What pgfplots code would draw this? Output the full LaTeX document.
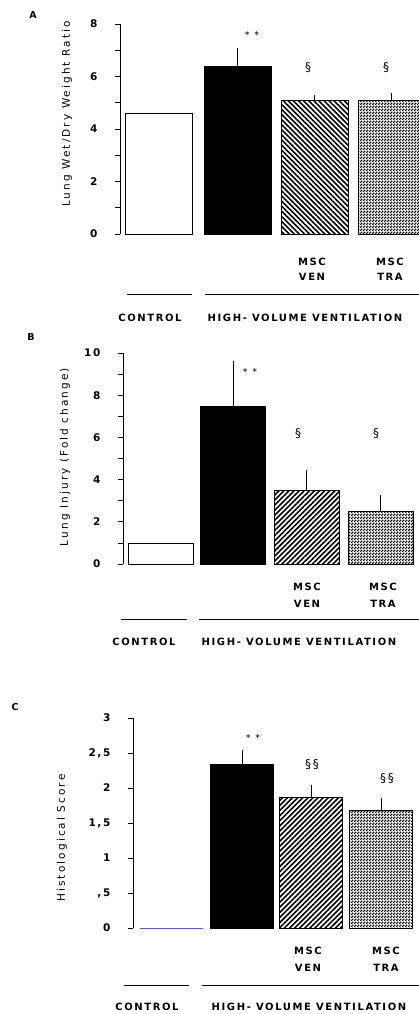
\documentclass[border=0pt]{standalone}
\usepackage{fontspec}
\setmainfont{DejaVu Sans}[LetterSpace=16]
\newfontfamily\ylabfont{DejaVu Sans}[LetterSpace=20]
\usepackage{pgfplots}
\pgfplotsset{compat=1.18}
\usetikzlibrary{patterns,patterns.meta}

\definecolor{ctrlblue}{RGB}{90,90,210}

% fine checkerboard for the MSC TRA bars
\pgfdeclarepatternformonly{finecheck}{\pgfpointorigin}{\pgfqpoint{3pt}{3pt}}{\pgfqpoint{3pt}{3pt}}{%
  \pgfpathrectangle{\pgfpointorigin}{\pgfqpoint{1.7pt}{1.7pt}}%
  \pgfpathrectangle{\pgfqpoint{1.5pt}{1.5pt}}{\pgfqpoint{1.7pt}{1.7pt}}%
  \pgfusepath{fill}}

\pgfplotsset{
  panel/.style={
    scale only axis, anchor=south west, clip=false,
    axis x line=none, axis y line=left,
    y axis line style={-, line width=0.8pt},
    ymin=0, xmax=419,
    tick align=outside, major tick length=5pt, minor tick length=5pt,
    every tick/.style={line width=0.8pt, black},
    yticklabel style={font=\fontsize{10.5}{11}\selectfont\bfseries, xshift=-14pt},
    /pgf/number format/assume math mode=true,
    ybar, bar shift=0pt,
  },
  errs/.style={
    error bars/y dir=plus, error bars/y explicit,
    error bars/error bar style={line width=0.8pt, black},
    error bars/error mark options={line width=0.8pt, mark size=3pt, black, rotate=0},
  },
}

\newcommand{\grp}{\fontsize{10}{11}\selectfont\bfseries}
\newcommand{\ylab}{\fontsize{10.5}{11}\ylabfont}
\newcommand{\sig}{\fontsize{9.5}{10}\selectfont}
\newcommand{\sect}{\fontsize{12}{12}\selectfont}
\newcommand{\pan}{\fontsize{9.5}{10}\selectfont\bfseries}

\begin{document}
\begin{tikzpicture}
\useasboundingbox (0pt,0pt) rectangle (419pt,-1014pt);

% ---------------- A ----------------
\node[font=\pan] at (33pt,-15pt) {A};
\node[rotate=90, font=\ylab] at (67pt,-114pt) {Lung Wet/Dry Weight Ratio};
\begin{axis}[panel, at={(120pt,-234pt)}, width=299pt, height=210pt,
  xmin=120, ymax=8, ytick={0,2,...,8}, minor y tick num=1, bar width=67]
\addplot[draw=black, fill=white, line width=0.8pt] coordinates {(159,4.61)};
\addplot[draw=black, fill=black, line width=0.8pt, errs] coordinates {(237.5,6.40) +- (0,0.56)};
\addplot[draw=black, line width=0.8pt, pattern={Lines[angle=-45,distance=3.6pt,line width=1.6pt]}, errs]
  coordinates {(314.5,5.08) +- (0,0.12)};
\addplot[draw=black, line width=0.8pt, pattern=finecheck, errs] coordinates {(391.5,5.08) +- (0,0.17)};
\node[font=\sig] at (axis cs:252,7.58) {* *};
\node[font=\sect] at (axis cs:308,6.32) {§};
\node[font=\sect] at (axis cs:386,6.32) {§};
\end{axis}
\node[font=\grp] at (312pt,-262pt) {MSC};
\node[font=\grp] at (312pt,-277pt) {VEN};
\node[font=\grp] at (390pt,-262pt) {MSC};
\node[font=\grp] at (390pt,-277pt) {TRA};
\draw[line width=0.8pt] (127pt,-294pt) -- (192pt,-294pt);
\draw[line width=0.8pt] (205pt,-294pt) -- (419pt,-294pt);
\node[font=\grp] at (150pt,-318pt) {CONTROL};
\node[font=\grp] at (305pt,-318pt) {HIGH- VOLUME VENTILATION};

% ---------------- B ----------------
\node[font=\pan] at (31pt,-337pt) {B};
\node[rotate=90, font=\ylab] at (65pt,-457pt) {Lung Injury (Fold change)};
\begin{axis}[panel, at={(123pt,-564pt)}, width=296pt, height=211pt,
  xmin=123, ymax=10, ytick={0,2,...,10}, minor y tick num=1, bar width=65]
\addplot[draw=black, fill=white, line width=0.8pt] coordinates {(160.5,1.0)};
\addplot[draw=black, fill=black, line width=0.8pt, errs] coordinates {(233,7.49) +- (0,2.0)};
\addplot[draw=black, line width=0.8pt, pattern={Lines[angle=45,distance=3.6pt,line width=1.6pt]}, errs]
  coordinates {(306.5,3.50) +- (0,0.80)};
\addplot[draw=black, line width=0.8pt, pattern=finecheck, errs] coordinates {(380.5,2.48) +- (0,0.66)};
\node[font=\sig] at (axis cs:250,9.1) {* *};
\node[font=\sect] at (axis cs:298,6.2) {§};
\node[font=\sect] at (axis cs:376,6.2) {§};
\end{axis}
\node[font=\grp] at (307pt,-587pt) {MSC};
\node[font=\grp] at (307pt,-604pt) {VEN};
\node[font=\grp] at (383pt,-587pt) {MSC};
\node[font=\grp] at (383pt,-604pt) {TRA};
\draw[line width=0.8pt] (121pt,-619pt) -- (187pt,-619pt);
\draw[line width=0.8pt] (199pt,-619pt) -- (419pt,-619pt);
\node[font=\grp] at (144pt,-642pt) {CONTROL};
\node[font=\grp] at (299pt,-642pt) {HIGH- VOLUME VENTILATION};

% ---------------- C ----------------
\node[font=\pan] at (15pt,-707pt) {C};
\node[rotate=90, font=\ylab] at (62pt,-838pt) {Histological Score};
\begin{axis}[panel, at={(133pt,-928pt)}, width=286pt, height=210pt,
  xmin=133, ymax=3, ytick={0,0.5,...,3},
  yticklabels={0,{,5},1,{1,5},2,{2,5},3}, bar width=63]
\addplot[draw=ctrlblue, fill=none, line width=0.8pt] coordinates {(171.5,0)};
\addplot[draw=black, fill=black, line width=0.8pt, errs] coordinates {(242,2.34) +- (0,0.16)};
\addplot[draw=black, line width=0.8pt, pattern={Lines[angle=45,distance=3.6pt,line width=1.6pt]}, errs]
  coordinates {(311,1.87) +- (0,0.13)};
\addplot[draw=black, line width=0.8pt, pattern=finecheck, errs] coordinates {(381,1.68) +- (0,0.14)};
\node[font=\sig] at (axis cs:253,2.71) {* *};
\node[font=\sect] at (axis cs:312,2.34) {§§};
\node[font=\sect] at (axis cs:387,2.14) {§§};
\end{axis}
\node[font=\grp] at (308pt,-951pt) {MSC};
\node[font=\grp] at (308pt,-968pt) {VEN};
\node[font=\grp] at (386pt,-951pt) {MSC};
\node[font=\grp] at (386pt,-968pt) {TRA};
\draw[line width=0.8pt] (124pt,-985pt) -- (189pt,-985pt);
\draw[line width=0.8pt] (202pt,-985pt) -- (419pt,-985pt);
\node[font=\grp] at (147pt,-1007pt) {CONTROL};
\node[font=\grp] at (309pt,-1007pt) {HIGH- VOLUME VENTILATION};
\end{tikzpicture}
\end{document}
